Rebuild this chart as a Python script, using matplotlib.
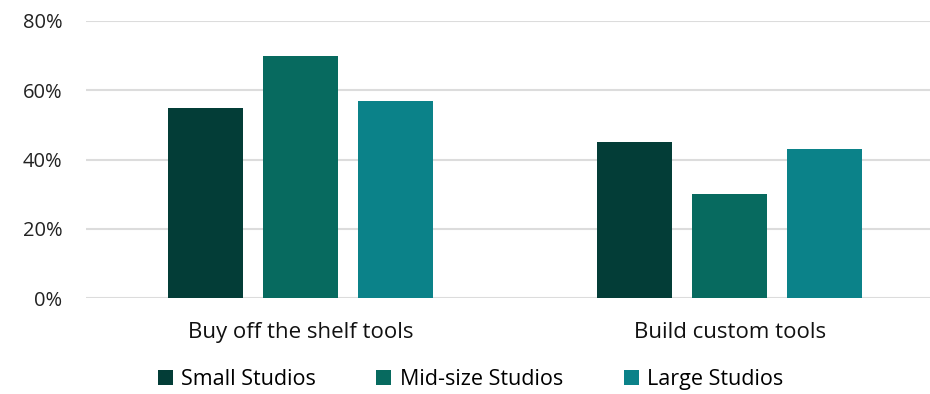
import matplotlib.pyplot as plt
import numpy as np

categories = ['Buy off the shelf tools', 'Build custom tools']
series = ['Small Studios', 'Mid-size Studios', 'Large Studios']
small = [55, 45]
mid = [70, 30]
large = [57, 43]
colors = ['#033d37', '#076a5f', '#0b8289']

plt.rcParams['font.family'] = ['Open Sans', 'DejaVu Sans']

fig = plt.figure(figsize=(9.3, 3.94), dpi=100)
ax = fig.add_axes([86 / 930, 1 - 298 / 394, 1 - 86 / 930, 277 / 394])

x = np.arange(len(categories))
w = 0.175
step = 0.2214
for i, (vals, name) in enumerate(zip([small, mid, large], series)):
    ax.bar(x + (i - 1) * step, vals, width=w, color=colors[i], label=name, zorder=3)

ax.set_ylim(0, 80)
ax.set_xlim(-0.5, 1.467)
ax.set_yticks([0, 20, 40, 60, 80])
ax.set_yticklabels([f'{v}%' for v in [0, 20, 40, 60, 80]], fontsize=14.5, color='#222222')
ax.set_xticks(x)
ax.set_xticklabels(categories, fontsize=16, color='#111111')
ax.tick_params(axis='both', length=0)
ax.tick_params(axis='y', pad=17)
ax.tick_params(axis='x', pad=17)
ax.yaxis.grid(True, color='#dcdcdc', linewidth=1.5, zorder=0)
for s in ax.spines.values():
    s.set_visible(False)

fig.legend(loc='lower center', bbox_to_anchor=(0.506, -0.038), ncol=3, frameon=False,
           fontsize=15.5, handlelength=0.7, handleheight=0.7, handletextpad=0.4, columnspacing=2.8)

plt.savefig('out.png', dpi=100)
